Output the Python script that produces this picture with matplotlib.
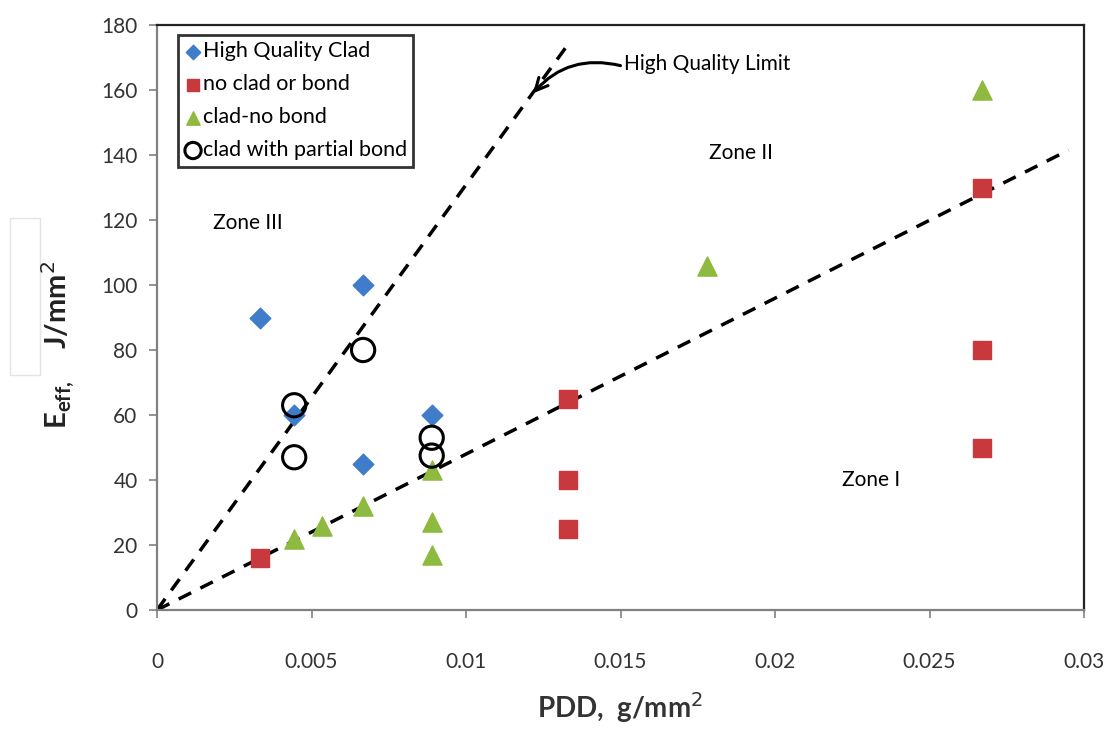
import matplotlib.pyplot as plt
from matplotlib.patches import Rectangle

plt.rcParams['font.family'] = ['Lato', 'DejaVu Sans']

# data
hq_x = [0.00333, 0.00444, 0.00667, 0.00667, 0.00889]
hq_y = [90, 60, 100, 45, 60]

noclad_x = [0.00333, 0.0133, 0.0133, 0.0133, 0.0267, 0.0267, 0.0267]
noclad_y = [16, 65, 40, 25, 130, 80, 50]

clad_nb_x = [0.00444, 0.00533, 0.00667, 0.00889, 0.00889, 0.00889, 0.0178, 0.0267]
clad_nb_y = [22, 26, 32, 43, 27, 17, 106, 160]

partial_x = [0.00444, 0.00444, 0.00667, 0.00889, 0.00889]
partial_y = [63, 47, 80, 53, 47.5]

limit_x = [0, 0.0133]
limit_y = [0, 174]
zone_x = [0, 0.0295]
zone_y = [0, 141.5]

fig = plt.figure(figsize=(11.11, 7.29), dpi=100)
ax = fig.add_axes([157 / 1111, 1 - 610 / 729, 927 / 1111, 585 / 729])

ax.plot(limit_x, limit_y, '--', color='black', lw=2.5, dashes=(4, 3))
ax.plot(zone_x, zone_y, '--', color='black', lw=2.5, dashes=(4, 3))

ax.scatter(hq_x, hq_y, marker='D', s=110, color='#3f7cc9', label='High Quality Clad', zorder=3)
ax.scatter(noclad_x, noclad_y, marker='s', s=170, color='#c8393e', label='no clad or bond', zorder=3)
ax.scatter(clad_nb_x, clad_nb_y, marker='^', s=190, color='#8dba3f', label='clad-no bond', zorder=3)
ax.scatter(partial_x, partial_y, marker='o', s=280, facecolors='none', edgecolors='black',
           linewidths=2.2, label='clad with partial bond', zorder=4)

ax.set_xlim(0, 0.03)
ax.set_ylim(0, 180)
ax.set_xticks([0, 0.005, 0.01, 0.015, 0.02, 0.025, 0.03])
ax.set_xticklabels(['0', '0.005', '0.01', '0.015', '0.02', '0.025', '0.03'])
ax.set_yticks(range(0, 181, 20))
ax.tick_params(labelsize=15, length=6, width=1.2, color='#808080', labelcolor='#333333')
ax.tick_params(axis='x', pad=24)
ax.tick_params(axis='y', pad=8)
ax.spines['left'].set_color('#808080')
ax.spines['bottom'].set_color('#808080')
for s in ax.spines.values():
    s.set_linewidth(1.6)
ax.spines['top'].set_color('#222222')
ax.spines['right'].set_color('#222222')

ax.set_xlabel('PDD,  g/mm$^2$', fontsize=20, fontweight='bold', color='#333333')
ax.xaxis.set_label_coords(0.5, -0.137)
ax.set_ylabel(r'E$_{\mathregular{eff,}}$    J/mm$^2$', fontsize=21, fontweight='bold',
              color='#222222')
ax.yaxis.set_label_coords(-0.086, 0.453)

ax.text(0.00295, 119, 'Zone III', fontsize=15, ha='center', va='center')
ax.text(0.0189, 140.5, 'Zone II', fontsize=15, ha='center', va='center')
ax.text(0.0231, 40, 'Zone I', fontsize=15, ha='center', va='center')

ax.text(0.0151, 168, 'High Quality Limit', fontsize=15, ha='left', va='center')
ax.annotate('', xy=(0.01217, 159), xytext=(0.0150, 167.5),
            arrowprops=dict(arrowstyle='->', lw=2.2, color='black', mutation_scale=22,
                            connectionstyle='arc3,rad=0.3', shrinkA=0, shrinkB=0))

leg = ax.legend(loc='upper left', bbox_to_anchor=(0.0226, 0.983), fontsize=15.5, frameon=True,
                fancybox=False, edgecolor='black', handletextpad=0.05, handlelength=0.8,
                borderpad=0.3, labelspacing=0.6, borderaxespad=0, markerscale=0.7)
leg.get_frame().set_linewidth(2)

fig.patches.append(Rectangle((10 / 1111, 1 - 375 / 729), 30 / 1111, 157 / 729,
                             transform=fig.transFigure, fill=False, edgecolor='#e4e4e4', lw=1,
                             zorder=-1))

fig.savefig('out.png', dpi=100)
